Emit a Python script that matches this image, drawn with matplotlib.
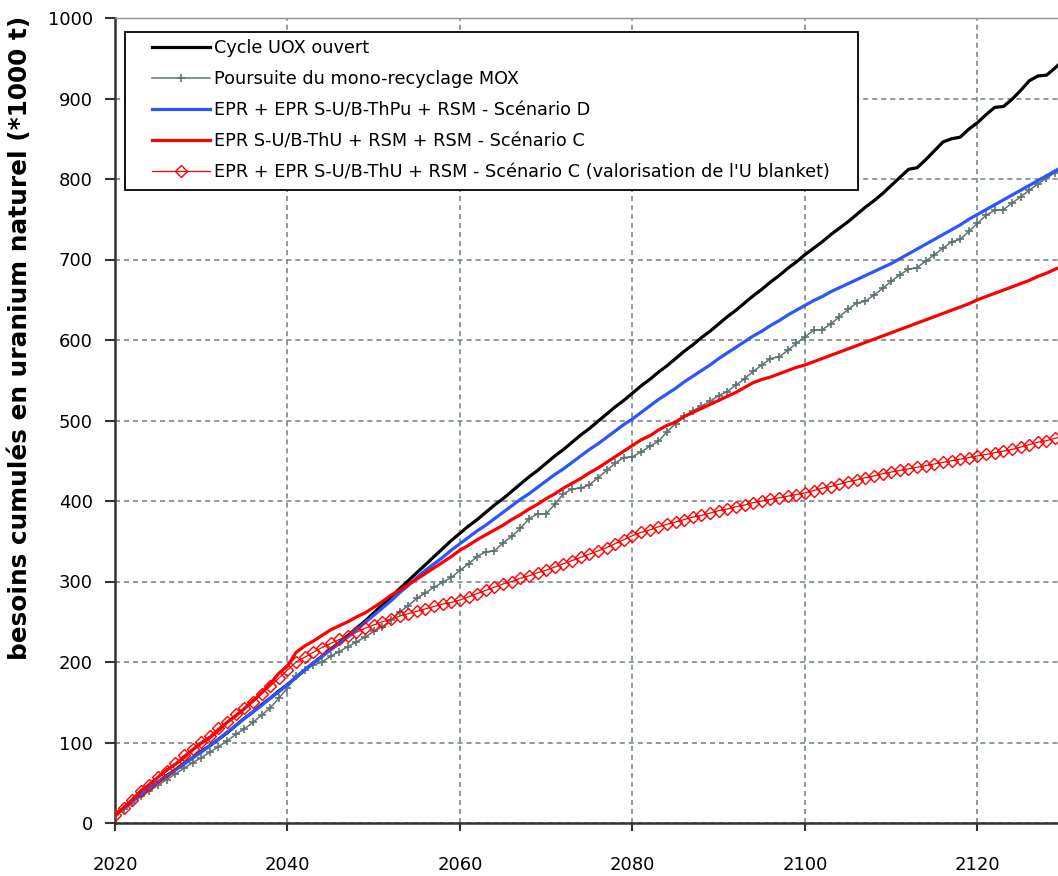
import matplotlib
matplotlib.use("Agg")
import matplotlib.pyplot as plt
from matplotlib.patches import Rectangle

years = list(range(2020, 2131))

uox_ouvert = [10, 18, 27, 35, 43, 51, 59, 66, 74, 81,
              89, 96, 104, 112, 121, 130, 138, 147, 155, 164,
              172, 181, 190, 199, 207, 216, 224, 233, 242, 251,
              261, 271, 281, 291, 301, 311, 321, 331, 341, 351,
              360, 369, 377, 386, 395, 403, 412, 421, 430, 438,
              447, 456, 464, 473, 482, 490, 499, 508, 517, 525,
              534, 543, 551, 560, 568, 577, 586, 594, 603, 611,
              620, 629, 637, 646, 655, 663, 672, 680, 689, 697,
              706, 714, 722, 731, 739, 747, 756, 765, 773, 782,
              792, 802, 812, 814, 824, 835, 846, 850, 852, 862,
              870, 880, 889, 890, 899, 910, 922, 928, 929, 938,
              948]

mono_mox = [10, 17, 25, 33, 40, 47, 54, 61, 68, 75,
            81, 88, 95, 102, 110, 117, 125, 134, 143, 155,
            168, 182, 190, 196, 200, 207, 213, 219, 225, 231,
            238, 244, 252, 262, 270, 279, 286, 293, 299, 305,
            314, 322, 331, 337, 338, 348, 356, 366, 378, 384,
            384, 396, 409, 415, 416, 420, 429, 438, 447, 454,
            455, 461, 468, 474, 486, 496, 505, 512, 518, 524,
            531, 536, 544, 552, 561, 569, 577, 579, 587, 596,
            604, 612, 613, 620, 629, 638, 646, 648, 656, 664,
            673, 681, 688, 690, 698, 706, 714, 722, 725, 735,
            745, 755, 761, 762, 770, 778, 786, 794, 801, 808,
            815]

scen_d = [10, 18, 27, 35, 43, 51, 58, 66, 73, 81,
          88, 96, 104, 113, 121, 130, 138, 146, 155, 163,
          172, 181, 190, 199, 207, 215, 223, 231, 240, 249,
          258, 267, 276, 286, 295, 305, 314, 322, 330, 339,
          347, 355, 363, 370, 378, 386, 394, 402, 409, 417,
          425, 433, 440, 448, 456, 464, 471, 479, 487, 495,
          502, 510, 518, 526, 533, 540, 548, 555, 562, 569,
          577, 584, 591, 598, 605, 611, 618, 624, 631, 637,
          643, 649, 654, 660, 665, 670, 675, 680, 685, 690,
          695, 701, 707, 713, 719, 725, 731, 737, 743, 750,
          756, 762, 768, 774, 780, 786, 792, 798, 804, 810,
          816]

scen_c = [10, 19, 29, 40, 48, 57, 66, 73, 81, 91,
          99, 106, 115, 125, 133, 142, 152, 162, 173, 186,
          195, 212, 220, 226, 233, 240, 245, 250, 256, 261,
          268, 275, 283, 289, 296, 303, 310, 317, 324, 331,
          339, 345, 352, 358, 364, 370, 377, 383, 390, 396,
          403, 409, 416, 422, 428, 435, 441, 448, 455, 462,
          469, 476, 481, 488, 494, 498, 505, 510, 515, 520,
          525, 530, 535, 541, 547, 551, 554, 558, 562, 566,
          569, 573, 577, 581, 585, 589, 593, 597, 601, 605,
          609, 613, 617, 621, 625, 629, 633, 637, 641, 645,
          650, 654, 658, 662, 666, 670, 674, 679, 683, 688,
          692]

scen_c_blanket = [10, 19, 28, 40, 47, 57, 64, 74, 84, 92,
                  101, 108, 118, 126, 135, 143, 150, 160, 170, 180,
                  190, 200, 206, 212, 218, 223, 228, 232, 237, 242,
                  246, 250, 253, 257, 260, 263, 266, 269, 272, 274,
                  277, 281, 285, 289, 293, 297, 300, 304, 307, 311,
                  314, 318, 322, 326, 330, 334, 338, 342, 347, 352,
                  357, 361, 364, 368, 371, 374, 377, 380, 382, 385,
                  388, 390, 393, 395, 398, 400, 402, 404, 406, 408,
                  410, 413, 416, 418, 421, 424, 426, 429, 431, 434,
                  436, 438, 440, 442, 444, 446, 448, 450, 452, 454,
                  456, 458, 460, 462, 464, 467, 470, 473, 475, 478,
                  480]

labels = ["Cycle UOX ouvert",
          "Poursuite du mono-recyclage MOX",
          "EPR + EPR S-U/B-ThPu + RSM - Scénario D",
          "EPR S-U/B-ThU + RSM + RSM - Scénario C",
          "EPR + EPR S-U/B-ThU + RSM - Scénario C (valorisation de l'U blanket)"]

x_ticks = [2020, 2040, 2060, 2080, 2100, 2120]
y_ticks = [0, 100, 200, 300, 400, 500, 600, 700, 800, 900, 1000]
y_label = "besoins cumulés en uranium naturel (*1000 t)"

plt.rcParams['font.family'] = ['DejaVu Sans']

W, H = 1058, 876
fig = plt.figure(figsize=(W / 100, H / 100), dpi=100)
ax = fig.add_axes([115 / W, (H - 823) / H, (W - 115) / W, (823 - 18) / H])

grid_col = "#6d8080"
ax.set_axisbelow(True)
ax.grid(True, color=grid_col, linestyle=(0, (3.3, 2.6)), linewidth=1.1)

ax.plot(years, uox_ouvert, color="black", lw=2.3, label=labels[0], zorder=3)
ax.plot(years, mono_mox, color="#5d7373", lw=1.1, marker="+", ms=6, mew=1.2,
        label=labels[1], zorder=3)
ax.plot(years, scen_d, color="#2b55ff", lw=2.3, label=labels[2], zorder=3)
ax.plot(years, scen_c, color="#ff0000", lw=2.3, label=labels[3], zorder=4)
ax.plot(years, scen_c_blanket, color="#ff0000", lw=0.9, marker="D", ms=6,
        mfc="none", mec="#ff0000", mew=1.0, label=labels[4], zorder=4)

ax.set_xlim(2020, 2020 + (W - 115) / 8.625)
ax.set_ylim(0, 1000)
ax.set_xticks(x_ticks)
ax.set_yticks(y_ticks)

for s in ("left", "bottom"):
    ax.spines[s].set_color("#333333")
    ax.spines[s].set_linewidth(1.8)
ax.spines["top"].set_color("#8a9494")
ax.spines["top"].set_linewidth(1.0)
ax.spines["right"].set_visible(False)

ax.tick_params(axis="x", direction="out", length=6, width=1.5, color="#333333",
               labelsize=13, pad=18)
ax.tick_params(axis="y", direction="out", length=7, width=1.5, color="#333333",
               labelsize=13, pad=9)

# legend frame drawn separately (pixel box 125..858 x 32..190)
aw, ah = W - 115, 823 - 18
frame = Rectangle(((125 - 115) / aw, 1 - (190 - 18) / ah),
                  (858 - 125) / aw, (190 - 32) / ah,
                  transform=ax.transAxes, facecolor="white", edgecolor="black",
                  linewidth=1.3, zorder=5, clip_on=False)
ax.add_patch(frame)

leg = ax.legend(loc="upper left", bbox_to_anchor=((152 - 115) / aw, 1 - (39 - 18) / ah),
                borderaxespad=0, borderpad=0, fontsize=12.7, frameon=False,
                handlelength=3.3, handletextpad=0.2, labelspacing=0.74)
leg.set_zorder(6)

fig.text(20 / W, (H - 660) / H, y_label,
         rotation=90, ha="center", va="bottom", fontsize=17.8, fontweight="bold")

fig.savefig("out.png", dpi=100)
